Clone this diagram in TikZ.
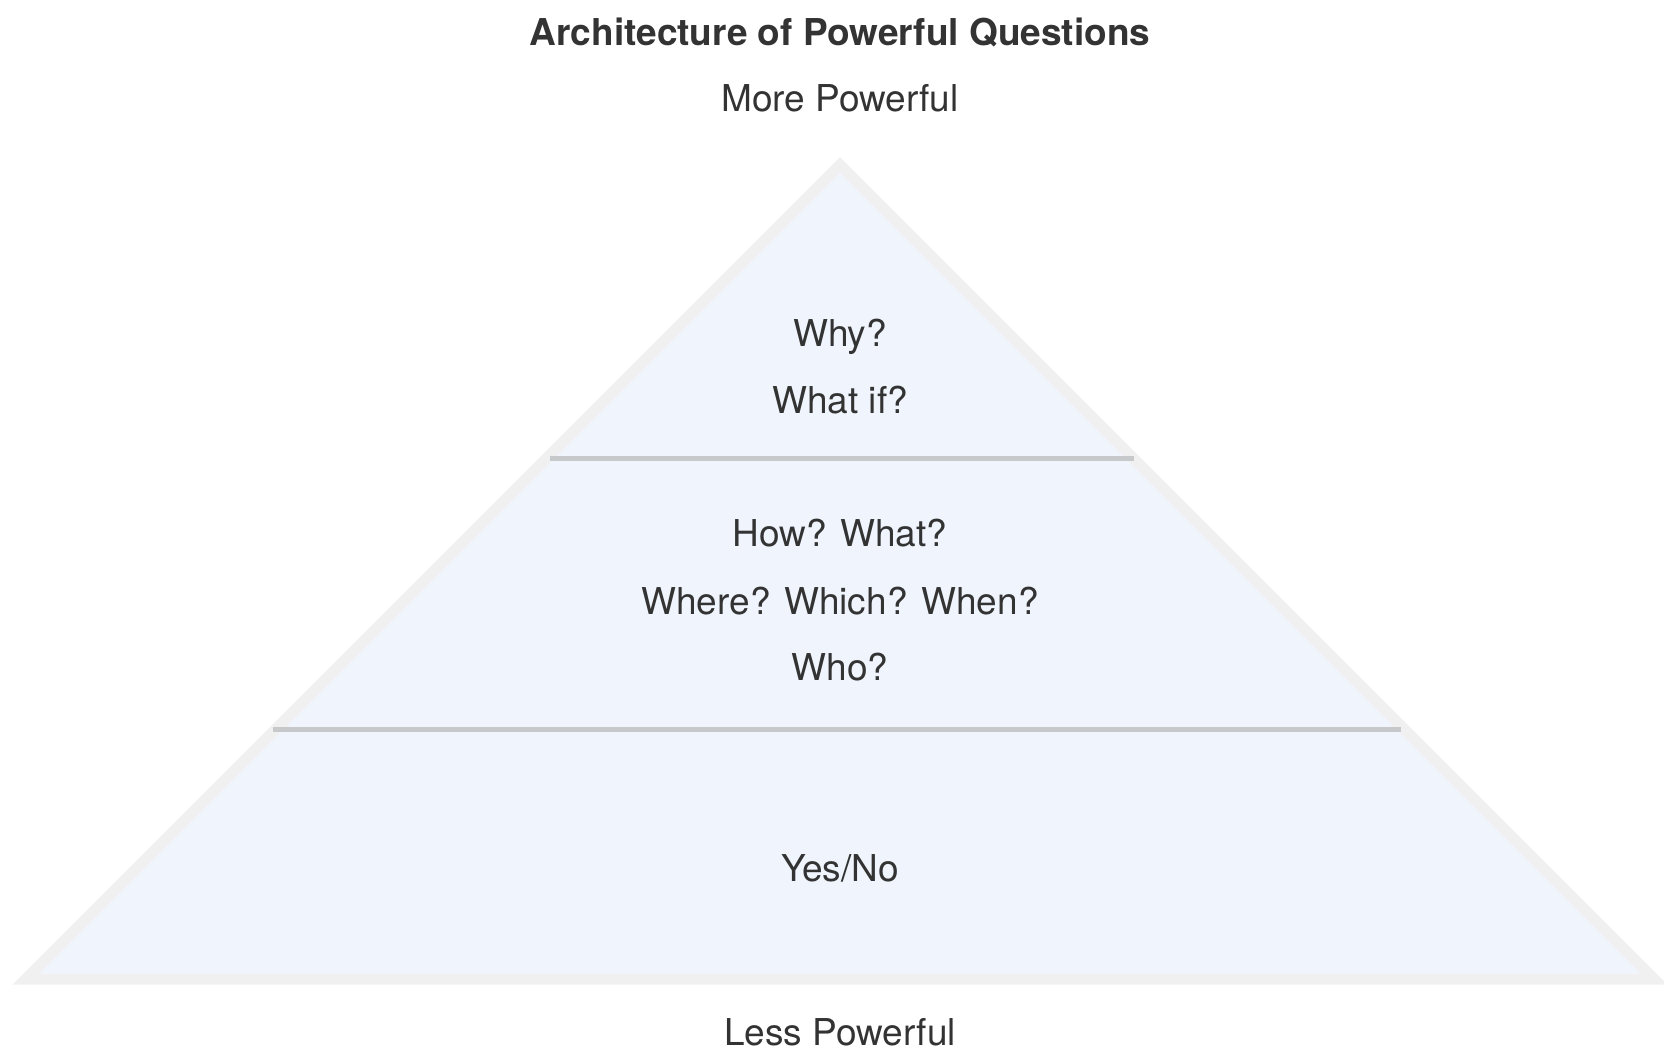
\documentclass[tikz,border=0pt]{standalone}
\usepackage{fontspec}
\setmainfont{TeX Gyre Heros}
\definecolor{qfill}{RGB}{240,245,253}
\definecolor{qedge}{RGB}{240,240,240}
\definecolor{qrule}{RGB}{198,200,202}
\definecolor{qtext}{RGB}{51,51,51}
\newcommand{\qfont}{\fontsize{37}{44}\selectfont}
\tikzset{
  label text/.style={font=\qfont,text=qtext,anchor=base,inner sep=0pt},
  heading/.style={label text,font=\qfont\bfseries},
  pyramid/.style={draw=qedge,fill=qfill,line width=11pt,line join=miter},
  divider/.style={draw=qrule,line width=5pt}
}

\begin{document}
\begin{tikzpicture}[x=1pt,y=-1pt]
\useasboundingbox (0,0) rectangle (1664,1051);
% corners of the pyramid
\coordinate (apex) at (840,165);
\coordinate (bl) at (26,979);
\coordinate (br) at (1654,979);
\draw[pyramid] (apex) -- (br) -- (bl) -- cycle;
% tier boundaries
\coordinate (l1) at (550,458.5);
\coordinate (r1) at (1134,458.5);
\coordinate (l2) at (273,729);
\coordinate (r2) at (1401,729);
\draw[divider] (l1) -- (r1);
\draw[divider] (l2) -- (r2);
% texts
\node[heading] (title) at (840,45.5) {Architecture of Powerful Questions};
\node[label text] (more) at (840,112) {More Powerful};
\node[label text] (why) at (840,346.7) {Why?};
\node[label text] (whatif) at (840,413) {What if?};
\node[label text] (how) at (840,546.7) {How? What?};
\node[label text] (where) at (840,614) {Where? Which? When?};
\node[label text] (who) at (840,680.7) {Who?};
\node[label text] (yesno) at (840,881.7) {Yes/No};
\node[label text] (less) at (840,1045) {Less Powerful};
\end{tikzpicture}
\end{document}
